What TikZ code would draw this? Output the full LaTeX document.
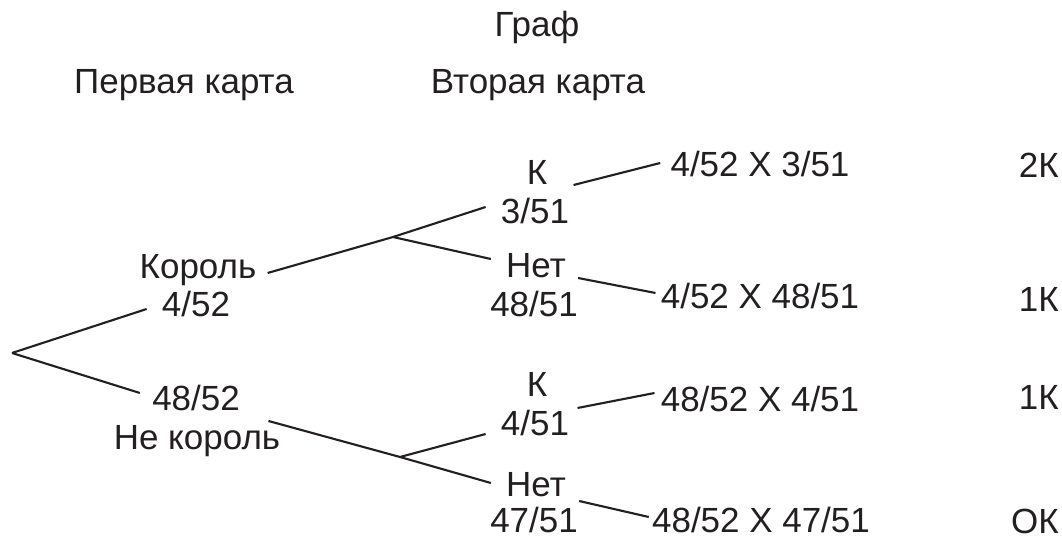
\documentclass[tikz,border=0pt]{standalone}
\usepackage{fontspec}
\setmainfont{Liberation Sans}
\usepackage{tikz}
\definecolor{inkblack}{RGB}{35,31,32}

\begin{document}
\begin{tikzpicture}[
    x=0.02cm, y=-0.02cm,
    txt/.style={inner sep=0pt, anchor=base, text=inkblack,
                font=\fontsize{19.9}{24}\selectfont},
    tally/.style={txt, anchor=base east},
    branch/.style={draw=inkblack, line width=1.2pt}
]
\useasboundingbox (0,0) rectangle (1062,540);

%% ── Headings ────────────────────────────────────────────────────────────────
\node[txt] (title)  at (537,37) {Граф};
\node[txt] (first)  at (184,94) {Первая карта};
\node[txt] (second) at (538,94) {Вторая карта};

%% ── First card ──────────────────────────────────────────────────────────────
\coordinate (root) at (12,353);
\node[txt] (king)   at (198,279) {Король};
\node[txt] (pk)     at (196,317) {4/52};
\node[txt] (pn)     at (196,411) {48/52};
\node[txt] (noking) at (197,450) {Не король};

%% ── Second card ─────────────────────────────────────────────────────────────
\coordinate (fork1) at (393,237);
\coordinate (fork2) at (400,457);
\node[txt] (kk)  at (537,185) {К};
\node[txt] (pkk) at (535,224) {3/51};
\node[txt] (kn)  at (536,278) {Нет};
\node[txt] (pkn) at (534,317) {48/51};
\node[txt] (nk)  at (537,397) {К};
\node[txt] (pnk) at (535,436) {4/51};
\node[txt] (nn)  at (536,497) {Нет};
\node[txt] (pnn) at (534,533) {47/51};

%% ── Products and counts ─────────────────────────────────────────────────────
\node[txt] (rkk) at (760,177) {4/52 X 3/51};
\node[txt] (rkn) at (760,309) {4/52 X 48/51};
\node[txt] (rnk) at (760,412) {48/52 X 4/51};
\node[txt] (rnn) at (761,533) {48/52 X 47/51};
\node[tally] (tkk) at (1059,178) {2К};
\node[tally] (tkn) at (1059,312) {1К};
\node[tally] (tnk) at (1059,410) {1К};
\node[tally] (tnn) at (1059,534) {ОК};

%% ── Branches ────────────────────────────────────────────────────────────────
\draw[branch] (root) -- ([shift={(-15,-8)}]pk.base west);
\draw[branch] (root) -- ([shift={(-12,-18)}]pn.base west);
\draw[branch] ([shift={(11,-6)}]king.base east) -- (fork1);
\draw[branch] (fork1) -- ([shift={(-15,-17)}]pkk.base west);
\draw[branch] (fork1) -- ([shift={(-15,-19)}]kn.base west);
\draw[branch] ([shift={(-12,-29)}]noking.base east) -- (fork2);
\draw[branch] (fork2) -- ([shift={(-15,-2)}]pnk.base west);
\draw[branch] (fork2) -- ([shift={(-15,-14)}]nn.base west);
\draw[branch] ([shift={(26,0)}]kk.base east)  -- ([shift={(-10,-14)}]rkk.base west);
\draw[branch] ([shift={(12,0)}]kn.base east)  -- ([shift={(-5,-16)}]rkn.base west);
\draw[branch] ([shift={(30,11)}]nk.base east) -- ([shift={(-6,-19)}]rnk.base west);
\draw[branch] ([shift={(13,4)}]nn.base east)  -- ([shift={(-3,-16)}]rnn.base west);

\end{tikzpicture}
\end{document}
